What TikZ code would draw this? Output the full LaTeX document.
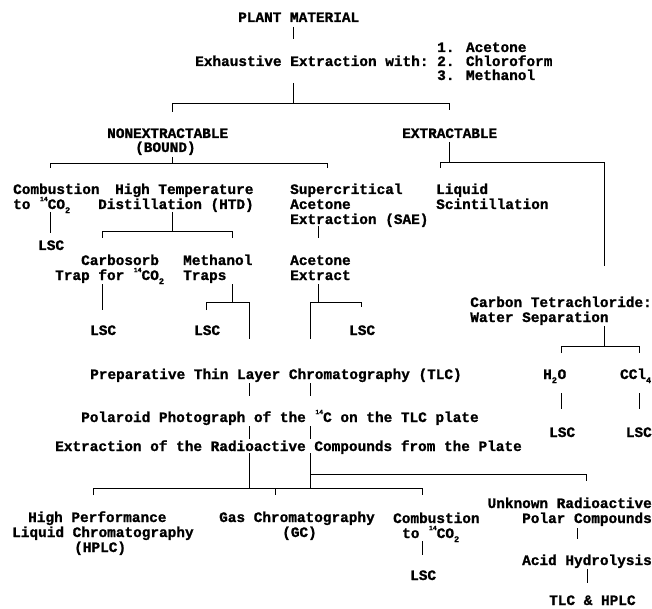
\documentclass[tikz,border=0pt]{standalone}
\usepackage{fontspec}
\setmainfont{Liberation Mono}[BoldFont={Liberation Mono Bold}, BoldFeatures={FakeBold=1.2}]
\newcommand\iso[1]{\makebox[0.6em][r]{\raisebox{0.55em}{\fontsize{6.5}{6.5}\selectfont #1}}}
\newcommand\sbs[1]{\makebox[0.4em][l]{\raisebox{-0.28em}{\fontsize{8.5}{8.5}\selectfont #1}}}
\begin{document}
\begin{tikzpicture}[x=1pt,y=-1pt,
  t/.style={inner sep=0pt, anchor=base west, font=\fontsize{14.4}{14.4}\selectfont\bfseries},
  tr/.style={t, anchor=base east},
  ln/.style={line width=0.9pt, black}]
\useasboundingbox (0,0) rectangle (652,609);
% ---- texts
\node[t] (plant) at (238,22) {PLANT MATERIAL};
\node[t] (exh) at (195,66) {Exhaustive Extraction with:};
\node[t] (ac) at (437,52) {1. Acetone};
\node[t] (ch) at (437,66) {2. Chloroform};
\node[t] (me) at (437,80) {3. Methanol};
\node[t] (nonex) at (107,138) {NONEXTRACTABLE};
\node[t] (bound) at (135,152) {(BOUND)};
\node[t] (ext) at (402,138) {EXTRACTABLE};
\node[t] (comba) at (13,194) {Combustion};
\node[t] (combb) at (13,209) {to\ \iso{14}CO\sbs{2}};
\node[t] (htda) at (115,194) {High Temperature};
\node[t] (htdb) at (98,209) {Distillation (HTD)};
\node[t] (saea) at (290,194) {Supercritical};
\node[t] (saeb) at (290,209) {Acetone};
\node[t] (saec) at (290,224) {Extraction (SAE)};
\node[t] (lsa) at (436,194) {Liquid};
\node[t] (lsb) at (436,209) {Scintillation};
\node[t] (lsc1) at (38,250) {LSC};
\node[t] (carba) at (81,265) {Carbosorb};
\node[t] (carbb) at (55,280) {Trap for\ \iso{14}CO\sbs{2}};
\node[t] (metha) at (183,265) {Methanol};
\node[t] (methb) at (183,280) {Traps};
\node[t] (aceta) at (290,265) {Acetone};
\node[t] (acetb) at (290,280) {Extract};
\node[t] (lsc2) at (90,335) {LSC};
\node[t] (lsc3) at (194,335) {LSC};
\node[t] (lsc4) at (349,335) {LSC};
\node[tr] (cta) at (652,307) {Carbon Tetrachloride:};
\node[t] (ctb) at (cta.base west) [yshift=-15pt] {Water Separation};
\node[t] (prep) at (90,379) {Preparative Thin Layer Chromatography (TLC)};
\node[t] (hto) at (543,379) {H\sbs{2}O};
\node[tr] (ccl) at (652,379) {CCl\sbs{4}};
\node[t] (lsc5) at (549,437) {LSC};
\node[tr] (lsc6) at (652,437) {LSC};
\node[t] (pol) at (81,422) {Polaroid Photograph of the \iso{14}C on the TLC plate};
\node[t] (extr) at (55,451) {Extraction of the Radioactive Compounds from the Plate};
\node[tr] (unka) at (652,508) {Unknown Radioactive};
\node[tr] (unkb) at (652,523) {Polar Compounds};
\node[tr] (acid) at (652,565) {Acid Hydrolysis};
\node[t] (tlch) at (549,605) {TLC \& HPLC};
\node[t] (hpa) at (28,522) {High Performance};
\node[t] (hpb) at (12,537) {Liquid Chromatography};
\node[t] (hpc) at (74,552) {(HPLC)};
\node[t] (gca) at (219,522) {Gas Chromatography};
\node[t] (gcb) at (282,537) {(GC)};
\node[t] (cba) at (393,523) {Combustion};
\node[t] (cbb) at (402,538) {to\ \iso{14}CO\sbs{2}};
\node[t] (lsc7) at (410,580) {LSC};
% ---- junction coordinates
\coordinate (a1) at (293,27); \coordinate (a2) at (293,39);
\coordinate (b1) at (293,83); \coordinate (b2) at (293,103);
\coordinate (bl) at (172,103); \coordinate (blt) at (172,112);
\coordinate (br) at (449,103); \coordinate (brt) at (449,110);
\coordinate (c1) at (172,157); \coordinate (c2) at (172,163);
\coordinate (cl) at (50,163); \coordinate (clt) at (50,168);
\coordinate (cr) at (327,163); \coordinate (crt) at (327,168);
\coordinate (d1) at (449,142); \coordinate (d2) at (449,162);
\coordinate (dl) at (440,162); \coordinate (dlt) at (440,168);
\coordinate (dr) at (604,162); \coordinate (drb) at (604,266);
\coordinate (e1) at (50,212); \coordinate (e2) at (50,233);
\coordinate (f1) at (172,212); \coordinate (f2) at (172,231);
\coordinate (fl) at (102,231); \coordinate (flt) at (102,238);
\coordinate (fr) at (232,231); \coordinate (frt) at (232,238);
\coordinate (g1) at (318,226); \coordinate (g2) at (318,238);
\coordinate (h1) at (102,284); \coordinate (h2) at (102,310);
\coordinate (i1) at (232,284); \coordinate (i2) at (232,302);
\coordinate (il) at (206,302); \coordinate (ilt) at (206,310);
\coordinate (ir) at (249,302); \coordinate (irb) at (249,339);
\coordinate (j1) at (318,284); \coordinate (j2) at (318,302);
\coordinate (jl) at (310,302); \coordinate (jlb) at (310,339);
\coordinate (jr) at (361,302); \coordinate (jrt) at (361,307);
\coordinate (k1) at (604,326); \coordinate (k2) at (604,346);
\coordinate (kl) at (561,346); \coordinate (klt) at (561,353);
\coordinate (kr) at (639,346); \coordinate (krt) at (639,353);
\coordinate (m1) at (561,393); \coordinate (m2) at (561,409);
\coordinate (n1) at (639,393); \coordinate (n2) at (639,409);
\coordinate (q1) at (249,383); \coordinate (q2) at (249,396);
\coordinate (r1) at (310,383); \coordinate (r2) at (310,396);
\coordinate (q3) at (249,426); \coordinate (q4) at (249,439);
\coordinate (r3) at (310,426); \coordinate (r4) at (310,439);
\coordinate (q5) at (249,453); \coordinate (q6) at (249,488);
\coordinate (r5) at (310,453); \coordinate (r6) at (310,488);
\coordinate (u1) at (310,474); \coordinate (u2) at (586,474); \coordinate (u3) at (586,481);
\coordinate (vl) at (93,488); \coordinate (vlt) at (93,495);
\coordinate (vr) at (422,488); \coordinate (vrt) at (422,495);
\coordinate (vm) at (275,488); \coordinate (vmt) at (275,495);
\coordinate (w1) at (422,541); \coordinate (w2) at (422,555);
\coordinate (x1) at (577,528); \coordinate (x2) at (577,539);
\coordinate (y1) at (587,569); \coordinate (y2) at (587,583);
% ---- connectors
\draw[ln] (a1) -- (a2);
\draw[ln] (b1) -- (b2);
\draw[ln] (blt) -- (bl) -- (br) -- (brt);
\draw[ln] (c1) -- (c2);
\draw[ln] (clt) -- (cl) -- (cr) -- (crt);
\draw[ln] (d1) -- (d2);
\draw[ln] (dlt) -- (dl) -- (dr) -- (drb);
\draw[ln] (e1) -- (e2);
\draw[ln] (f1) -- (f2);
\draw[ln] (flt) -- (fl) -- (fr) -- (frt);
\draw[ln] (g1) -- (g2);
\draw[ln] (h1) -- (h2);
\draw[ln] (i1) -- (i2);
\draw[ln] (ilt) -- (il) -- (ir) -- (irb);
\draw[ln] (j1) -- (j2);
\draw[ln] (jlb) -- (jl) -- (jr) -- (jrt);
\draw[ln] (k1) -- (k2);
\draw[ln] (klt) -- (kl) -- (kr) -- (krt);
\draw[ln] (m1) -- (m2);
\draw[ln] (n1) -- (n2);
\draw[ln] (q1) -- (q2);
\draw[ln] (r1) -- (r2);
\draw[ln] (q3) -- (q4);
\draw[ln] (r3) -- (r4);
\draw[ln] (q5) -- (q6);
\draw[ln] (r5) -- (r6);
\draw[ln] (u1) -- (u2) -- (u3);
\draw[ln] (vlt) -- (vl) -- (vr) -- (vrt);
\draw[ln] (vm) -- (vmt);
\draw[ln] (w1) -- (w2);
\draw[ln] (x1) -- (x2);
\draw[ln] (y1) -- (y2);
\end{tikzpicture}
\end{document}
